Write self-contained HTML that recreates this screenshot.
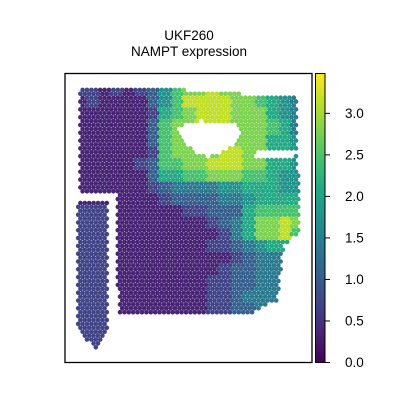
<!DOCTYPE html>
<html><head><meta charset="utf-8"><style>
body{margin:0;background:#fff;width:400px;height:400px;overflow:hidden}
text{font-family:"Liberation Sans","DejaVu Sans",sans-serif;fill:#000}
</style></head><body>
<svg id="chart" width="400" height="400">
<defs>
<linearGradient id="vir" x1="0" y1="1" x2="0" y2="0">
<stop offset="0" stop-color="#440154"/><stop offset="0.1" stop-color="#482475"/><stop offset="0.2" stop-color="#414487"/><stop offset="0.3" stop-color="#355f8d"/><stop offset="0.4" stop-color="#2a788e"/><stop offset="0.5" stop-color="#21918c"/><stop offset="0.6" stop-color="#22a884"/><stop offset="0.7" stop-color="#44bf70"/><stop offset="0.8" stop-color="#7ad151"/><stop offset="0.9" stop-color="#bddf26"/><stop offset="1" stop-color="#fde725"/>
</linearGradient>
<clipPath id="axclip"><rect x="65" y="73" width="247" height="289"/></clipPath>
</defs>
<text x="189" y="40" text-anchor="middle" font-size="13.5">UKF260</text>
<text x="189" y="56" text-anchor="middle" font-size="13.5">NAMPT expression</text>
<g id="spots" clip-path="url(#axclip)"></g>
<rect x="65" y="73.5" width="247" height="289" fill="none" stroke="#000" stroke-width="1.3"/>
<rect x="315.5" y="73.5" width="9.5" height="289" fill="url(#vir)" stroke="#000" stroke-width="1"/>
<g id="cbticks"></g>
</svg>
<script>
const vmax = 3.48;
const cbTicks = [0.0, 0.5, 1.0, 1.5, 2.0, 2.5, 3.0];
const cbTickLabels = ["0.0","0.5","1.0","1.5","2.0","2.5","3.0"];
// coarse expression grid (12px cells starting at x=75,y=85); digit d -> d*0.35
const gridRows = [
"2212123578898876543",
"1211113579999887654",
"1111112678999888654",
"1111113788999888764",
"1111113788999888665",
"1111112788889988665",
"1111123778899988665",
"1111113667788877655",
"1111112344445566655",
"1111111233334456666",
"2221111112233367777",
"2221111111123468898",
"2221111111112468897",
"2221111111122345665",
"2221111111111234443",
"2221111111112334443",
"2221111111122334444",
"2221111111122344444",
"2221111111122334444",
"2222222222222222222",
"2222222222222222222",
"2222222222222222222",
"2222222222222222222"
];
const digitScale = 0.35;

const NS="http://www.w3.org/2000/svg";
const cbTop=73.5, cbBot=362.5;
function cbY(v){return cbBot-(v/vmax)*(cbBot-cbTop);}
const tg=document.getElementById('cbticks');
cbTicks.forEach((v,i)=>{
  const y=cbY(v);
  const l=document.createElementNS(NS,'line');
  l.setAttribute('x1',325);l.setAttribute('x2',330);l.setAttribute('y1',y);l.setAttribute('y2',y);l.setAttribute('stroke','#000');
  
  
  tg.appendChild(l);
  const t=document.createElementNS(NS,'text');
  t.setAttribute('x',345);t.setAttribute('y',y+4.5);t.setAttribute('font-size','13.5');
  t.textContent=cbTickLabels[i];
  
  
  tg.appendChild(t);
});

const stops=[[68,1,84],[72,36,117],[65,68,135],[53,95,141],[42,120,142],[33,145,140],[34,168,132],[68,191,112],[122,209,81],[189,223,38],[253,231,37]];
function viridis(f){f=Math.max(0,Math.min(1,f))*10;const i=Math.min(9,Math.floor(f));const t=f-i;const a=stops[i],b=stops[i+1];
return `rgb(${Math.round(a[0]+(b[0]-a[0])*t)},${Math.round(a[1]+(b[1]-a[1])*t)},${Math.round(a[2]+(b[2]-a[2])*t)})`;}

function inPoly(x,y,p){let c=false;for(let i=0,j=p.length-1;i<p.length;j=i++){const xi=p[i][0],yi=p[i][1],xj=p[j][0],yj=p[j][1];
if(((yi>y)!=(yj>y))&&(x<(xj-xi)*(y-yi)/(yj-yi)+xi))c=!c;}return c;}
const mainPoly=[[80,90],[150,87],[210,92],[296,97],[300,230],[283,248],[278,300],[248,315],[118,316],[117,192],[80,192]];
const stripPoly=[[77,203],[108,203],[108,325],[104,340],[97,351],[92,346],[78,330]];
const hole1=[[178,126],[200,121],[238,123],[242,134],[230,148],[210,157],[196,153],[181,140]];
const hole2=[[256,152],[295,150],[295,158],[256,159]];

const g=document.getElementById('spots');
const dx=4.4, dy=3.9;
let row=0;
for(let y=86;y<=352;y+=dy,row++){
  for(let x=76+(row%2?dx/2:0);x<=302;x+=dx){
    const inside=(inPoly(x,y,mainPoly)&&!inPoly(x,y,hole1)&&!inPoly(x,y,hole2))||inPoly(x,y,stripPoly);
    if(!inside)continue;
    const ri=Math.min(gridRows.length-1,Math.max(0,Math.floor((y-85)/12)));
    const ci=Math.min(18,Math.max(0,Math.floor((x-75)/12)));
    const v=parseInt(gridRows[ri][ci])*digitScale;
    const c=document.createElementNS(NS,'circle');
    c.setAttribute('cx',x.toFixed(1));c.setAttribute('cy',y.toFixed(1));c.setAttribute('r',2.3);
    c.setAttribute('fill',viridis(v/vmax));
    
    
    g.appendChild(c);
  }
}
</script>
</body></html>
